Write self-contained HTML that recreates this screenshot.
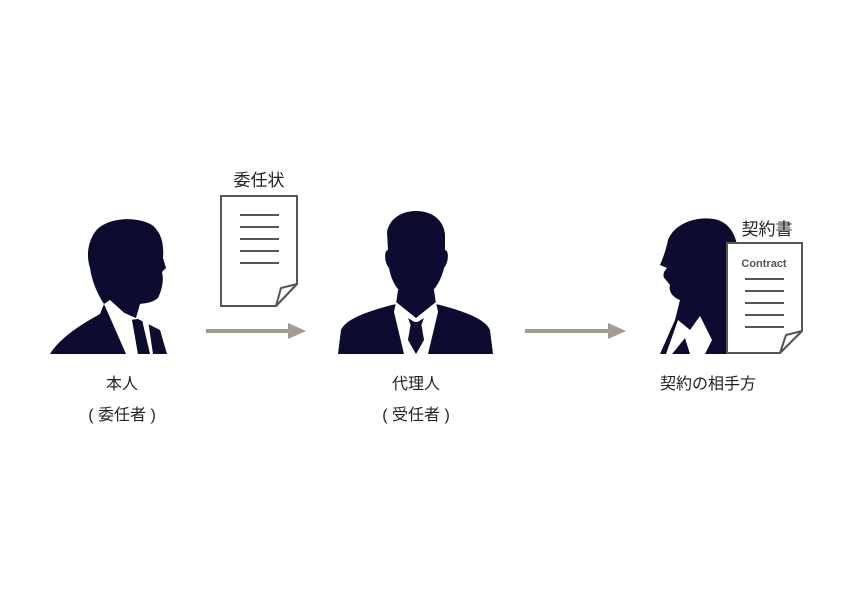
<!DOCTYPE html>
<html><head><meta charset="utf-8"><style>
html,body{margin:0;padding:0;background:#fff;}
svg{display:block}
text{font-family:"Liberation Sans","Noto Sans CJK JP",sans-serif;fill:#222;}
</style></head><body>
<svg width="842" height="595" viewBox="0 0 842 595" xmlns="http://www.w3.org/2000/svg">
<!-- Left man (profile facing right) -->
<g fill="#0b0c30">
<path d="M95,232 C105,218 135,215 152,225 C162,233 164,245 163,258 L166,268 L162,272 C164,280 162,290 158,298 C152,303 146,303 140,304 L136,318 L160,330 L167,354 L50,354 C60,338 80,325 100,314 L104,304 C98,295 92,282 90,268 C86,255 88,242 95,232 Z"/>
</g>
<path d="M104,304 L130,320 L145,318 L140,306 L136,318 Z" fill="#fff"/>
<path d="M104,304 L110,300 L132,320 L138,354 L126,354 L112,322 Z" fill="#fff"/>
<path d="M134,330 L143,326 L150,354 L138,354 Z" fill="#0b0c30"/>
<path d="M140,306 L148,320 L153,354 L150,354 L143,324 Z" fill="#fff"/>

<!-- Document 1 -->
<path d="M221,196 L297,196 L297,284 L276,306 L221,306 Z" fill="#fff" stroke="#555" stroke-width="2"/>
<path d="M297,284 L281,288 L276,306 Z" fill="#fff" stroke="#555" stroke-width="2" stroke-linejoin="round"/>
<g stroke="#555" stroke-width="2">
<line x1="240" y1="215" x2="279" y2="215"/><line x1="240" y1="227" x2="279" y2="227"/>
<line x1="240" y1="239" x2="279" y2="239"/><line x1="240" y1="251" x2="279" y2="251"/>
<line x1="240" y1="263" x2="279" y2="263"/></g>
<text x="259" y="186" font-size="17" text-anchor="middle">委任状</text>

<!-- Arrows -->
<line x1="206" y1="331" x2="290" y2="331" stroke="#a09a90" stroke-width="4"/>
<path d="M288,323 L306,331 L288,339 Z" fill="#a09a90"/>
<line x1="525" y1="331" x2="610" y2="331" stroke="#a09a90" stroke-width="4"/>
<path d="M608,323 L626,331 L608,339 Z" fill="#a09a90"/>

<!-- Middle man (front) -->
<g fill="#0b0c30">
<path d="M387,232 C390,216 405,211 416,211 C430,211 443,218 445,234 L445,250 C449,250 449,262 444,268 C440,285 430,298 416,300 C402,298 392,285 389,268 C384,262 384,250 388,250 Z"/>
<path d="M398,290 L434,290 L436,304 C460,310 485,318 490,330 L493,354 L338,354 L341,330 C346,318 372,310 396,304 Z"/>
</g>
<path d="M396,302 L416,318 L436,302 L438,312 L428,354 L404,354 L394,312 Z" fill="#fff"/>
<path d="M411,322 L421,322 L424,340 L416,354 L408,340 Z" fill="#0b0c30"/>
<path d="M408,318 L416,323 L424,318 L421,326 L411,326 Z" fill="#0b0c30"/>

<!-- Woman -->
<g fill="#0b0c30">
<path d="M668,240 C675,222 700,215 718,220 C735,226 740,245 738,270 L738,354 L660,354 L675,320 L680,300 C674,298 668,292 670,285 L666,280 C662,277 663,272 667,268 L660,265 C663,258 666,250 668,240 Z"/>
</g>
<path d="M678,320 L690,330 L700,316 L712,340 L705,354 L690,354 L685,338 L672,354 L666,354 Z" fill="#fff"/>

<!-- Document 2 -->
<path d="M727,243 L802,243 L802,331 L780,353 L727,353 Z" fill="#fff" stroke="#555" stroke-width="2"/>
<path d="M802,331 L786,335 L780,353 Z" fill="#fff" stroke="#555" stroke-width="2" stroke-linejoin="round"/>
<text x="764" y="267" font-size="11" font-weight="bold" text-anchor="middle" style="fill:#555">Contract</text>
<g stroke="#555" stroke-width="2">
<line x1="745" y1="279" x2="784" y2="279"/><line x1="745" y1="291" x2="784" y2="291"/>
<line x1="745" y1="303" x2="784" y2="303"/><line x1="745" y1="315" x2="784" y2="315"/>
<line x1="745" y1="327" x2="784" y2="327"/></g>
<text x="767" y="235" font-size="17" text-anchor="middle">契約書</text>

<!-- Labels -->
<text x="122" y="389" font-size="16" text-anchor="middle">本人</text>
<text x="122" y="420" font-size="16" text-anchor="middle">( 委任者 )</text>
<text x="416" y="389" font-size="16" text-anchor="middle">代理人</text>
<text x="416" y="420" font-size="16" text-anchor="middle">( 受任者 )</text>
<text x="708" y="389" font-size="16" text-anchor="middle">契約の相手方</text>
</svg>
</body></html>
